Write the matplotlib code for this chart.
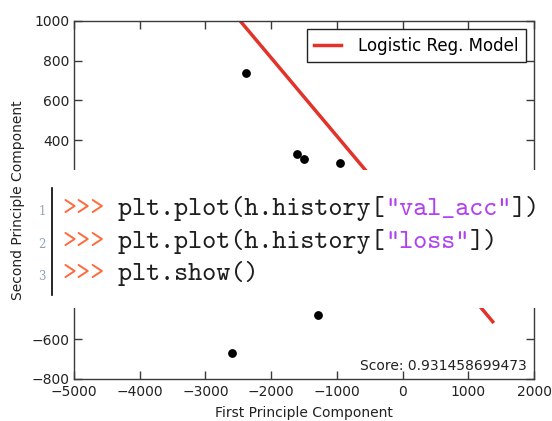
import matplotlib
matplotlib.use("Agg")
import matplotlib.pyplot as plt
from matplotlib.patches import Rectangle
from matplotlib.lines import Line2D

# ---- data ----
pc1 = [-2383, -1611, -1495, -947, -2600, -1282]
pc2 = [738, 330, 307, 286, -671, -479]
model_x = [-2474, 1372]
model_y = [1000, -512]
score = 0.931458699473
xticks = [-5000, -4000, -3000, -2000, -1000, 0, 1000, 2000]
yticks = [-800, -600, -400, -200, 0, 200, 400, 600, 800, 1000]
# labels -400 .. 200 are hidden under the code box in the reference
ytick_labels = ['\u2212800', '\u2212600', '', '', '', '', '400', '600', '800', '1000']
code_lines = [
    ('plt.plot(h.history[', '"val_acc"', '])'),
    ('plt.plot(h.history[', '"loss"', '])'),
    ('plt.show()', '', ''),
]

plt.rcParams['font.family'] = ['DejaVu Sans']
plt.rcParams['font.size'] = 10

W, H = 552, 421
fig = plt.figure(figsize=(W / 100, H / 100), dpi=100)
fig.patch.set_facecolor('white')
ax = fig.add_axes([74 / W, 1 - 379 / H, 460 / W, 358.3 / H])

spine_col = '#3a3a3a'
for s in ax.spines.values():
    s.set_color(spine_col)
    s.set_linewidth(1.0)

ax.scatter(pc1, pc2, s=28, c='black', zorder=3)
ax.plot(model_x, model_y, color='#e2322a', lw=2.5, label='Logistic Reg. Model', zorder=2)

ax.set_xlim(-5000, 2000)
ax.set_ylim(-800, 1000)
ax.set_xticks(xticks)
ax.set_yticks(yticks)
ax.set_yticklabels(ytick_labels)
ax.tick_params(direction='in', length=5.5, width=1, top=True, right=True,
               color=spine_col, labelcolor='#222222', labelsize=10)
ax.tick_params(axis='y', pad=3)
ax.tick_params(axis='x', pad=4.5)
ax.set_xlabel('First Principle Component', fontsize=10, color='#222222', labelpad=5)
ax.set_ylabel('Second Principle Component', fontsize=10, color='#222222', labelpad=5)

leg = ax.legend(loc='upper right', fontsize=12, fancybox=False, framealpha=1,
                edgecolor='#222222', handlelength=1.6, handletextpad=1.0,
                borderpad=0.45, borderaxespad=0.5)
leg.get_frame().set_linewidth(1.0)

ax.text(0.984, 0.025, 'Score: %s' % score, transform=ax.transAxes,
        ha='right', va='baseline', fontsize=10, color='#222222')

# ---- white overlay with code snippet ----
def fx(px):
    return px / W

def fy(py):
    return 1 - py / H

fig.patches.append(Rectangle((fx(24), fy(308)), 1 - fx(24), fy(170) - fy(308),
                             transform=fig.transFigure, facecolor='white',
                             edgecolor='none', zorder=10))
fig.lines.append(Line2D([fx(51.7), fx(51.7)], [fy(188), fy(295)],
                        transform=fig.transFigure, color='black', lw=1.2, zorder=11))

baselines = [215, 248, 280]
code_font = dict(family='cmtt10', size=19.3)
fig.canvas.draw()
r = fig.canvas.get_renderer()
for i, (pre, string, post) in enumerate(code_lines):
    yb = fy(baselines[i])
    fig.text(fx(42), yb, str(i + 1), fontsize=8.5, color='#8fa3b8', ha='center',
             va='baseline', family='DejaVu Serif', zorder=12)
    prev = fig.text(fx(62), yb, '>>>', color='#ff6a3d', va='baseline', zorder=12,
                    **code_font)
    for seg, col in ((' ' + pre, '#1e1e1e'), (string, '#b040f0'), (post, '#1e1e1e')):
        if not seg.strip():
            continue
        x_next = prev.get_window_extent(r).x1
        prev = fig.text(x_next / W, yb, seg, color=col, va='baseline', zorder=12,
                        **code_font)

fig.savefig('out.png', dpi=100, facecolor='white')
